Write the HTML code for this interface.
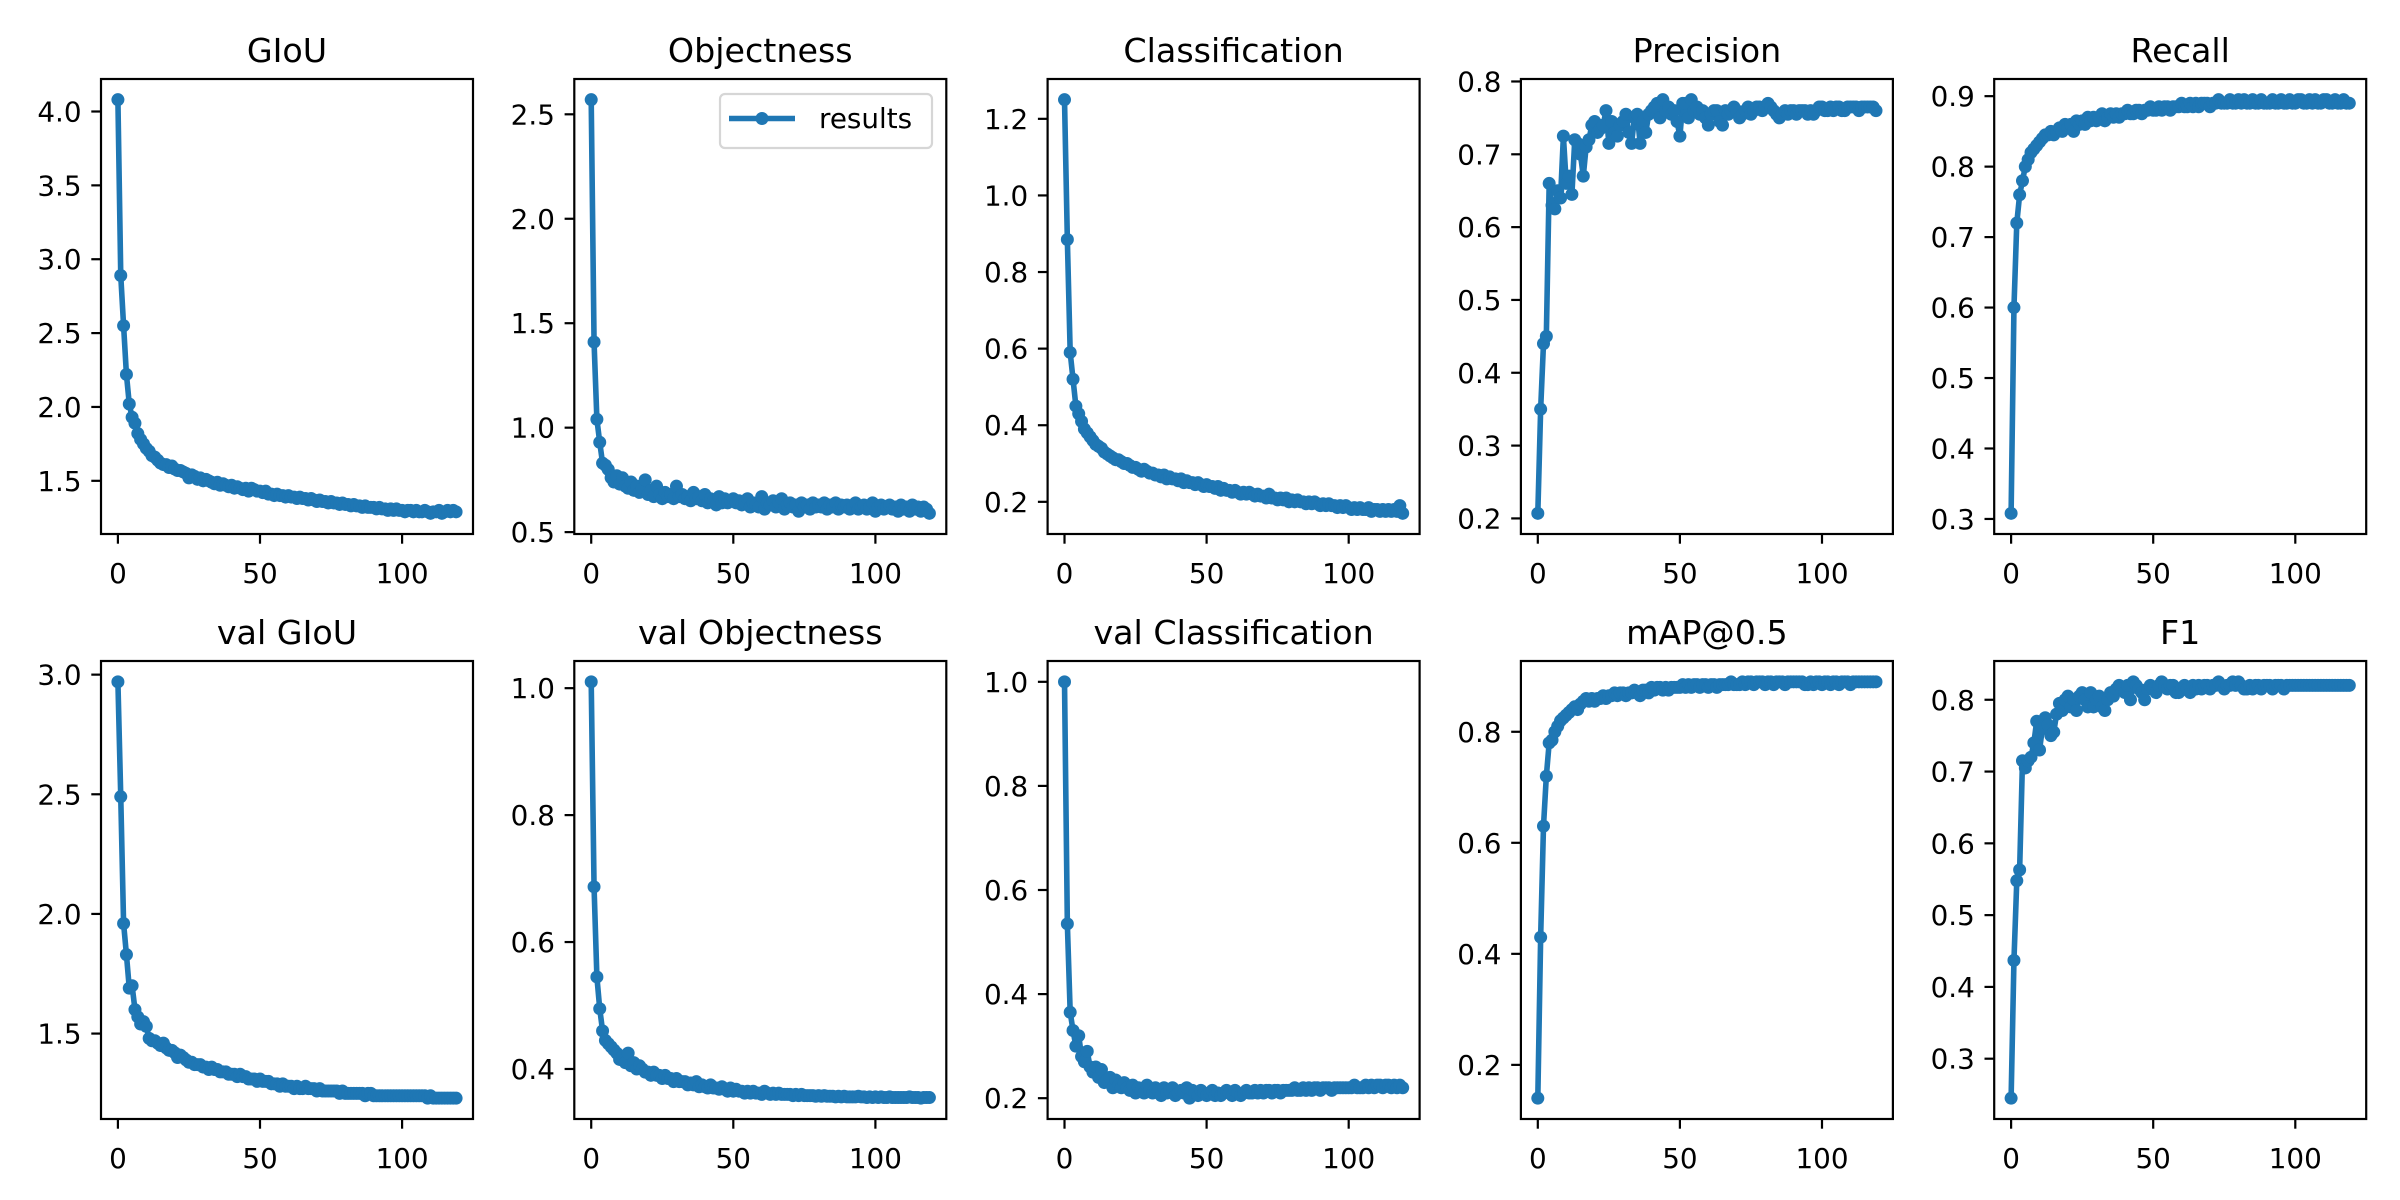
<!DOCTYPE html>
<html><head><meta charset="utf-8">
<style>
html,body{margin:0;padding:0;background:#fff;}
svg{display:block;font-family:"DejaVu Sans","Liberation Sans",sans-serif;}
</style></head>
<body>
<svg id="fig" width="2400" height="1200" viewBox="0 0 2400 1200" xmlns="http://www.w3.org/2000/svg"></svg>
<script>
const titles = ["GIoU","Objectness","Classification","Precision","Recall","val GIoU","val Objectness","val Classification","mAP@0.5","F1"];
const giou = [4.08,2.89,2.55,2.22,2.02,1.93,1.89,1.82,1.78,1.75,1.72,1.70,1.67,1.66,1.64,1.62,1.61,1.61,1.59,1.60,1.58,1.57,1.57,1.56,1.55,1.52,1.54,1.53,1.51,1.52,1.50,1.51,1.50,1.49,1.48,1.49,1.47,1.48,1.47,1.46,1.47,1.45,1.46,1.45,1.44,1.45,1.43,1.45,1.44,1.43,1.43,1.42,1.43,1.41,1.41,1.40,1.41,1.40,1.40,1.39,1.40,1.39,1.39,1.38,1.39,1.38,1.38,1.37,1.38,1.37,1.36,1.37,1.36,1.36,1.35,1.36,1.35,1.35,1.34,1.35,1.34,1.34,1.33,1.34,1.33,1.33,1.32,1.33,1.32,1.32,1.32,1.31,1.32,1.31,1.31,1.30,1.31,1.30,1.31,1.30,1.30,1.29,1.30,1.30,1.29,1.30,1.29,1.29,1.30,1.29,1.28,1.29,1.29,1.30,1.28,1.29,1.30,1.29,1.30,1.29];
const objectness = [2.57,1.41,1.04,0.93,0.83,0.82,0.80,0.76,0.74,0.77,0.73,0.76,0.72,0.71,0.74,0.70,0.72,0.69,0.71,0.75,0.68,0.70,0.67,0.72,0.68,0.66,0.69,0.67,0.68,0.66,0.72,0.67,0.68,0.66,0.67,0.65,0.69,0.66,0.67,0.65,0.68,0.64,0.66,0.65,0.63,0.67,0.64,0.66,0.64,0.65,0.66,0.64,0.65,0.63,0.64,0.66,0.62,0.64,0.63,0.62,0.67,0.61,0.64,0.63,0.65,0.62,0.64,0.66,0.61,0.63,0.64,0.62,0.63,0.60,0.64,0.62,0.63,0.61,0.64,0.62,0.63,0.62,0.64,0.61,0.63,0.62,0.64,0.61,0.63,0.62,0.63,0.61,0.62,0.64,0.61,0.62,0.63,0.61,0.62,0.64,0.60,0.62,0.63,0.61,0.62,0.63,0.61,0.62,0.60,0.63,0.61,0.62,0.60,0.63,0.61,0.62,0.60,0.62,0.61,0.59];
const classification = [1.25,0.885,0.59,0.52,0.45,0.43,0.41,0.39,0.38,0.37,0.36,0.35,0.345,0.34,0.33,0.325,0.32,0.315,0.31,0.31,0.305,0.30,0.30,0.295,0.29,0.29,0.285,0.28,0.285,0.28,0.275,0.275,0.27,0.27,0.265,0.27,0.26,0.265,0.26,0.26,0.255,0.26,0.25,0.255,0.25,0.25,0.245,0.25,0.245,0.24,0.245,0.24,0.24,0.235,0.24,0.23,0.235,0.23,0.23,0.225,0.23,0.225,0.22,0.225,0.22,0.225,0.22,0.215,0.22,0.215,0.215,0.21,0.22,0.21,0.21,0.205,0.21,0.205,0.21,0.20,0.205,0.20,0.205,0.20,0.20,0.195,0.20,0.195,0.20,0.195,0.19,0.195,0.19,0.195,0.19,0.19,0.185,0.19,0.185,0.19,0.185,0.18,0.185,0.18,0.185,0.18,0.18,0.185,0.175,0.18,0.18,0.175,0.18,0.175,0.18,0.175,0.18,0.175,0.19,0.17];
const precision = [0.207,0.35,0.44,0.45,0.66,0.63,0.625,0.65,0.64,0.725,0.66,0.67,0.645,0.72,0.715,0.70,0.67,0.71,0.72,0.74,0.745,0.73,0.735,0.74,0.76,0.715,0.745,0.73,0.725,0.74,0.745,0.755,0.73,0.715,0.75,0.755,0.715,0.745,0.73,0.755,0.76,0.765,0.77,0.75,0.775,0.76,0.765,0.755,0.76,0.745,0.725,0.77,0.77,0.75,0.775,0.76,0.765,0.755,0.76,0.75,0.74,0.755,0.76,0.76,0.745,0.74,0.76,0.755,0.76,0.765,0.76,0.75,0.755,0.76,0.765,0.755,0.76,0.765,0.765,0.76,0.765,0.77,0.765,0.76,0.755,0.75,0.755,0.76,0.755,0.76,0.76,0.755,0.76,0.76,0.76,0.755,0.76,0.755,0.76,0.765,0.765,0.76,0.76,0.765,0.76,0.765,0.765,0.76,0.76,0.765,0.765,0.765,0.765,0.76,0.765,0.765,0.765,0.765,0.765,0.76];
const recall = [0.308,0.60,0.72,0.76,0.78,0.80,0.81,0.82,0.825,0.83,0.835,0.84,0.845,0.845,0.85,0.845,0.85,0.855,0.85,0.86,0.855,0.86,0.85,0.865,0.86,0.865,0.86,0.87,0.865,0.87,0.865,0.87,0.875,0.865,0.87,0.875,0.87,0.875,0.87,0.875,0.875,0.88,0.875,0.875,0.88,0.88,0.875,0.88,0.88,0.885,0.88,0.88,0.885,0.88,0.885,0.885,0.88,0.885,0.885,0.885,0.89,0.885,0.885,0.89,0.885,0.89,0.885,0.89,0.89,0.89,0.885,0.89,0.89,0.895,0.89,0.89,0.89,0.895,0.89,0.89,0.895,0.89,0.895,0.89,0.89,0.895,0.89,0.89,0.895,0.89,0.89,0.89,0.895,0.89,0.89,0.895,0.89,0.89,0.895,0.89,0.89,0.895,0.895,0.89,0.89,0.895,0.89,0.895,0.89,0.89,0.895,0.895,0.89,0.89,0.895,0.89,0.89,0.895,0.89,0.89];
const valGiou = [2.97,2.49,1.96,1.83,1.69,1.70,1.60,1.57,1.54,1.55,1.53,1.48,1.47,1.47,1.46,1.45,1.46,1.44,1.43,1.43,1.42,1.40,1.41,1.40,1.39,1.38,1.38,1.37,1.37,1.37,1.36,1.36,1.35,1.36,1.35,1.35,1.34,1.34,1.34,1.33,1.33,1.33,1.32,1.33,1.32,1.32,1.31,1.31,1.31,1.30,1.31,1.30,1.30,1.30,1.29,1.29,1.29,1.28,1.29,1.28,1.28,1.28,1.27,1.28,1.27,1.27,1.28,1.27,1.27,1.27,1.26,1.27,1.26,1.26,1.26,1.26,1.26,1.26,1.25,1.26,1.25,1.25,1.25,1.25,1.25,1.25,1.25,1.24,1.25,1.25,1.24,1.24,1.24,1.24,1.24,1.24,1.24,1.24,1.24,1.24,1.24,1.24,1.24,1.24,1.24,1.24,1.24,1.24,1.24,1.23,1.24,1.23,1.23,1.23,1.23,1.23,1.23,1.23,1.23,1.23];
const valObjectness = [1.01,0.687,0.545,0.495,0.46,0.445,0.44,0.435,0.43,0.425,0.415,0.42,0.41,0.425,0.405,0.41,0.40,0.405,0.40,0.395,0.395,0.39,0.395,0.39,0.39,0.385,0.39,0.385,0.385,0.38,0.385,0.38,0.38,0.38,0.375,0.378,0.375,0.38,0.372,0.375,0.372,0.37,0.375,0.37,0.37,0.368,0.372,0.368,0.365,0.37,0.365,0.368,0.365,0.365,0.362,0.365,0.362,0.365,0.362,0.362,0.36,0.365,0.362,0.36,0.362,0.36,0.362,0.36,0.36,0.36,0.36,0.358,0.36,0.358,0.36,0.358,0.358,0.358,0.358,0.357,0.358,0.357,0.358,0.357,0.357,0.357,0.356,0.357,0.356,0.357,0.356,0.356,0.356,0.356,0.357,0.356,0.356,0.355,0.356,0.355,0.356,0.355,0.356,0.355,0.355,0.356,0.355,0.355,0.355,0.355,0.355,0.355,0.356,0.355,0.355,0.355,0.354,0.355,0.355,0.355];
const valClassification = [1.0,0.535,0.365,0.33,0.30,0.32,0.28,0.27,0.29,0.26,0.25,0.26,0.24,0.255,0.23,0.235,0.24,0.22,0.235,0.225,0.22,0.23,0.22,0.215,0.225,0.21,0.22,0.215,0.21,0.225,0.215,0.21,0.22,0.215,0.205,0.22,0.21,0.215,0.22,0.205,0.21,0.215,0.21,0.22,0.2,0.215,0.21,0.205,0.215,0.21,0.205,0.21,0.215,0.205,0.21,0.205,0.21,0.215,0.21,0.205,0.215,0.21,0.205,0.21,0.215,0.21,0.21,0.215,0.21,0.215,0.21,0.215,0.215,0.21,0.215,0.215,0.21,0.215,0.215,0.215,0.215,0.22,0.215,0.215,0.22,0.215,0.22,0.215,0.22,0.22,0.215,0.22,0.22,0.22,0.215,0.22,0.22,0.22,0.22,0.22,0.22,0.22,0.225,0.22,0.22,0.22,0.225,0.22,0.225,0.22,0.225,0.225,0.22,0.225,0.225,0.22,0.225,0.22,0.225,0.22];
const mAP = [0.14,0.43,0.63,0.72,0.78,0.785,0.80,0.81,0.82,0.825,0.83,0.835,0.84,0.845,0.84,0.85,0.855,0.86,0.855,0.86,0.855,0.86,0.86,0.865,0.86,0.865,0.865,0.87,0.865,0.87,0.87,0.865,0.87,0.87,0.875,0.87,0.865,0.875,0.875,0.87,0.88,0.875,0.88,0.88,0.875,0.88,0.875,0.88,0.88,0.88,0.88,0.885,0.88,0.885,0.88,0.885,0.885,0.88,0.885,0.885,0.88,0.885,0.885,0.88,0.885,0.885,0.885,0.885,0.89,0.885,0.885,0.885,0.89,0.885,0.89,0.89,0.885,0.89,0.89,0.89,0.885,0.89,0.89,0.885,0.89,0.89,0.89,0.885,0.89,0.89,0.89,0.89,0.89,0.89,0.885,0.885,0.89,0.885,0.89,0.89,0.885,0.89,0.89,0.885,0.89,0.89,0.885,0.89,0.89,0.89,0.885,0.89,0.89,0.89,0.89,0.89,0.89,0.89,0.89,0.89];
const f1 = [0.245,0.437,0.548,0.563,0.715,0.705,0.715,0.72,0.74,0.77,0.73,0.76,0.775,0.765,0.75,0.755,0.78,0.795,0.785,0.80,0.805,0.79,0.80,0.785,0.805,0.81,0.80,0.79,0.81,0.79,0.80,0.805,0.79,0.785,0.80,0.81,0.805,0.815,0.82,0.815,0.81,0.82,0.80,0.825,0.82,0.815,0.81,0.80,0.815,0.82,0.815,0.81,0.82,0.825,0.82,0.815,0.82,0.82,0.81,0.81,0.815,0.82,0.815,0.81,0.82,0.815,0.82,0.815,0.82,0.82,0.815,0.82,0.82,0.825,0.82,0.815,0.82,0.82,0.825,0.82,0.825,0.82,0.815,0.815,0.82,0.815,0.82,0.82,0.815,0.82,0.82,0.82,0.815,0.82,0.82,0.82,0.815,0.82,0.82,0.82,0.82,0.82,0.82,0.82,0.82,0.82,0.82,0.82,0.82,0.82,0.82,0.82,0.82,0.82,0.82,0.82,0.82,0.82,0.82,0.82];
const seriesList = [giou, objectness, classification, precision, recall, valGiou, valObjectness, valClassification, mAP, f1];
const yTicks = [
 [1.5,2.0,2.5,3.0,3.5,4.0],
 [0.5,1.0,1.5,2.0,2.5],
 [0.2,0.4,0.6,0.8,1.0,1.2],
 [0.2,0.3,0.4,0.5,0.6,0.7,0.8],
 [0.3,0.4,0.5,0.6,0.7,0.8,0.9],
 [1.5,2.0,2.5,3.0],
 [0.4,0.6,0.8,1.0],
 [0.2,0.4,0.6,0.8,1.0],
 [0.2,0.4,0.6,0.8],
 [0.3,0.4,0.5,0.6,0.7,0.8]
];
const xTicks = [0,50,100];

const NS = "http://www.w3.org/2000/svg";
const svg = document.getElementById("fig");
const COLOR = "#1f77b4";
function mk(tag, attrs, parent){
  const e = document.createElementNS(NS, tag);
  for (const k in attrs) e.setAttribute(k, attrs[k]);
  (parent||svg).appendChild(e);
  return e;
}
const AX_W = 372, COL0 = 101, COL_STEP = 473.3;
const ROWS = [{top:79, h:455}, {top:661, h:458}];

function fmt(v){ return v.toFixed(1); }

seriesList.forEach((data, idx) => {
  const col = idx % 5, row = Math.floor(idx/5);
  const L = COL0 + col*COL_STEP, T = ROWS[row].top, H = ROWS[row].h, W = AX_W;
  const g = mk("g", {});
  
  
  const n = data.length;
  const xmin = 0, xmax = n - 1, xm = (xmax - xmin)*0.05;
  const x0 = xmin - xm, x1 = xmax + xm;
  let ymin = Math.min(...data), ymax = Math.max(...data);
  const ym = (ymax - ymin)*0.05;
  const y0 = ymin - ym, y1 = ymax + ym;
  const sx = v => L + (v - x0)/(x1 - x0)*W;
  const sy = v => T + H - (v - y0)/(y1 - y0)*H;

  // title
  const t = mk("text", {x: L + W/2, y: T - 17, "text-anchor":"middle", "font-size":"33.3", fill:"#000"}, g);
  t.textContent = titles[idx];
  
  

  // y ticks
  yTicks[idx].forEach(v => {
    if (v < y0 || v > y1) return;
    const y = sy(v);
    mk("line", {x1: L - 9.7, x2: L, y1: y, y2: y, stroke:"#000", "stroke-width":"2.2"}, g);
    const lb = mk("text", {x: L - 19.4, y: y + 10, "text-anchor":"end", "font-size":"27.8", fill:"#000"}, g);
    lb.textContent = fmt(v);
    
    
  });
  // x ticks
  xTicks.forEach(v => {
    const x = sx(v);
    mk("line", {x1: x, x2: x, y1: T + H, y2: T + H + 9.7, stroke:"#000", "stroke-width":"2.2"}, g);
    const lb = mk("text", {x: x, y: T + H + 49, "text-anchor":"middle", "font-size":"27.8", fill:"#000"}, g);
    lb.textContent = String(v);
    
    
  });

  // series line
  const pts = data.map((v,i) => sx(i).toFixed(2) + "," + sy(v).toFixed(2)).join(" ");
  const pl = mk("polyline", {points: pts, fill:"none", stroke: COLOR, "stroke-width":"5.6", "stroke-linejoin":"round"}, g);
  
  
  data.forEach((v,i) => {
    const c = mk("circle", {cx: sx(i), cy: sy(v), r: 6.5, fill: COLOR}, g);
    
    
  });

  // frame
  const fr = mk("rect", {x: L, y: T, width: W, height: H, fill:"none", stroke:"#000", "stroke-width":"2.2"}, g);
  
  

  // legend on Objectness
  if (idx === 1) {
    const lg = mk("g", {}, g);
    
    
    mk("rect", {x: 720, y: 94, width: 212, height: 54, rx: 5, fill:"#fff", "fill-opacity":"0.8", stroke:"#d6d6d6", "stroke-width":"2.2"}, lg);
    mk("line", {x1: 729, x2: 795, y1: 118.5, y2: 118.5, stroke: COLOR, "stroke-width":"5.6"}, lg);
    mk("circle", {cx: 762, cy: 118.5, r: 6.5, fill: COLOR}, lg);
    const lt = mk("text", {x: 819, y: 128, "font-size":"27.8", fill:"#000"}, lg);
    lt.textContent = "results";
    
    
  }
});
</script>
</body></html>
